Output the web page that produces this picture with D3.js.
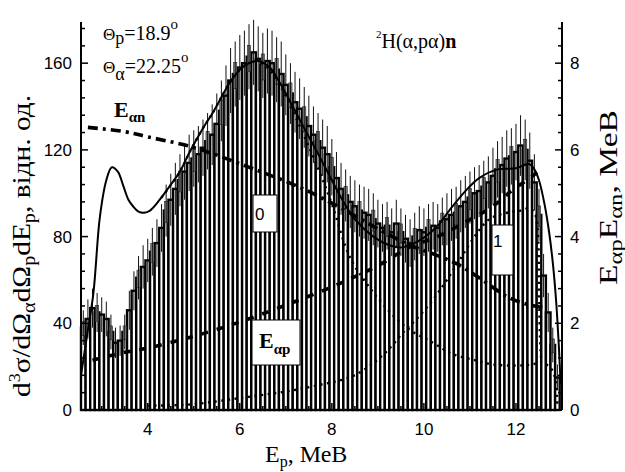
<!DOCTYPE html>
<html><head><meta charset="utf-8">
<script src="https://cdn.jsdelivr.net/npm/d3@7"></script>
<style>body{margin:0;background:#fff}</style>
</head><body>
<svg id="c" width="625" height="472"></svg>
<script>
// ---------- data ----------
const binStart = 2.55, binWidth = 0.1;
const counts = [38,42,47,45,44,42,36,31,32,36,
 46,55,61,66,69,73,77,84,92,97,
 102,106,110,114,116,118,121,124,127,132,
 138,145,152,155,158,160,163,165,162,159,
 161,160,157,155,150,146,142,139,135,131,
 127,124,121,118,112,107,102,99,96,94,
 92,91,90,88,86,84,85,82,86,82,
 79,77,80,83,82,84,85,84,87,88,
 90,91,94,96,98,100,101,103,105,108,
 111,113,116,117,119,122,120,115,105,90,
 62,45,30,15];
const errors = [8,9,9,9,8,8,8,7,7,8,
 9,9,10,10,10,11,11,11,12,12,
 12,12,13,13,13,13,13,13,14,14,
 14,14,15,15,15,15,15,15,15,15,
 15,15,15,15,14,14,14,14,14,14,
 13,13,13,13,13,12,12,12,12,12,
 12,12,12,12,11,11,11,11,11,11,
 11,11,11,11,11,11,11,11,11,12,
 12,12,12,12,12,12,12,12,12,13,
 13,13,13,13,13,14,14,13,13,12,
 10,9,8,6];
const totalFit = [[2.55,16],[2.7,37],[2.82,54],[2.96,89],[3.1,106],[3.22,112],[3.35,110],[3.46,104],[3.58,97],[3.68,94],[3.8,91.5],[3.92,91],[4.05,92],[4.26,97],[4.4,101],[4.7,110],[4.91,119],[5.2,130],[5.41,137],[5.78,151],[6.0,157],[6.2,160],[6.4,161],[6.65,158],[6.87,151],[7.15,140],[7.45,128],[7.73,117],[8.0,106],[8.2,98],[8.5,88],[8.9,80],[9.25,76],[9.5,75],[9.75,76.5],[10.0,79.5],[10.3,85],[10.55,92],[10.9,101],[11.2,107],[11.6,111],[12.0,111.5],[12.29,113.5],[12.4,111],[12.5,106],[12.62,95],[12.72,82],[12.8,68],[12.87,51],[12.93,30],[12.97,12]];
const comp0 = [[4.3,98],[4.7,110],[4.91,119],[5.2,130],[5.41,137],[5.78,151],[6.0,157],[6.2,160],[6.35,161],[6.6,158],[6.87,150],[7.15,138],[7.45,124],[7.73,110],[8.0,95],[8.38,71],[8.7,60],[9.1,49],[9.62,38],[10.2,31],[10.6,26],[11.1,23],[11.5,21],[12.0,20.5],[12.35,21],[12.55,22],[12.8,18],[12.9,2]];
const comp1 = [[4.0,2],[4.9,2.5],[5.5,4],[6.0,5.5],[6.5,7],[7.0,8.5],[7.6,11],[8.38,15],[8.8,20],[9.19,27],[9.6,37],[9.84,42],[10.2,51],[10.5,60],[10.8,70],[11.1,80],[11.42,88],[11.8,91],[12.1,92],[12.3,93],[12.42,90],[12.48,80],[12.5,60],[12.52,35],[12.55,22]];
const eAlphaP = [[2.8,1.15],[3.5,1.33],[4.0,1.43],[5.0,1.7],[6.0,2.03],[7.0,2.42],[8.0,2.84],[9.0,3.33],[9.7,3.76],[10.3,4.0],[10.84,4.3],[11.5,4.7],[11.9,5.05],[12.3,5.35],[12.6,5.6]];
const eAlphaN = [[2.7,6.52],[3.5,6.42],[4.0,6.3],[4.85,6.1],[5.5,5.88],[6.0,5.68],[6.5,5.48],[7.08,5.24],[7.73,4.92],[8.5,4.48],[9.1,4.12],[9.7,3.8],[10.2,3.6],[10.7,3.38],[11.2,3.05],[11.8,2.62],[12.2,2.45],[12.65,2.35]];
const xTicks = [4,6,8,10,12];
const leftTicks = [0,40,80,120,160];
const rightTicks = [0,2,4,6,8];

// ---------- layout ----------
const svg = d3.select("#c");
const x = d3.scaleLinear().domain([2.55, 13.0]).range([81, 562]);
const yL = d3.scaleLinear().domain([0, 179]).range([410, 22]);
const yR = d3.scaleLinear().domain([0, 8.95]).range([410, 22]);

const bins = counts.map((v,i)=>({x0: binStart + i*binWidth, x1: binStart + (i+1)*binWidth, v, e: errors[i], i}));

const gBars = svg.append("g");
gBars.selectAll("rect.bar").data(bins).join("rect")
  .attr("class","bar")
  .attr("x", d=>x(d.x0)).attr("width", d=>x(d.x1)-x(d.x0))
  .attr("y", d=>yL(d.v)).attr("height", d=>yL(0)-yL(d.v))
  .attr("fill","#fff").attr("stroke","#000").attr("stroke-width",2.4);
// gray error boxes
gBars.selectAll("rect.gb").data(bins.filter(d=>d.i%3===0)).join("rect")
  .attr("class","gb")
  .attr("x", d=>x((d.x0+d.x1)/2)-1.6).attr("width",3.2)
  .attr("y", d=>yL(d.v + d.e*0.35)).attr("height", d=>yL(d.v - d.e*0.45)-yL(d.v + d.e*0.35))
  .attr("fill","#8a8a8a").attr("stroke","#222").attr("stroke-width",0.6);
// error bars
gBars.selectAll("line.err").data(bins).join("line")
  .attr("class","err")
  .attr("x1", d=>x((d.x0+d.x1)/2)).attr("x2", d=>x((d.x0+d.x1)/2))
  .attr("y1", d=>yL(Math.max(0,d.v - d.e))).attr("y2", d=>yL(d.v + d.e))
  .attr("stroke","#111").attr("stroke-width",1);

// ---------- curves ----------
const lineL = d3.line().x(d=>x(d[0])).y(d=>yL(d[1])).curve(d3.curveCatmullRom.alpha(0.5));
const lineR = d3.line().x(d=>x(d[0])).y(d=>yR(d[1])).curve(d3.curveCatmullRom.alpha(0.5));
svg.append("path").attr("d", lineL(comp1)).attr("fill","none").attr("stroke","#000").attr("stroke-width",2.4).attr("stroke-dasharray","2.2,4.5");
svg.append("path").attr("d", lineL(comp0)).attr("fill","none").attr("stroke","#000").attr("stroke-width",2.4).attr("stroke-dasharray","2.2,4.5");
svg.append("path").attr("d", lineR(eAlphaP)).attr("fill","none").attr("stroke","#000").attr("stroke-width",3.6).attr("stroke-dasharray","7,9");
svg.append("path").attr("d", lineR(eAlphaN)).attr("fill","none").attr("stroke","#000").attr("stroke-width",3.6).attr("stroke-dasharray","10,5,3,5");
svg.append("path").attr("d", lineL(totalFit)).attr("fill","none").attr("stroke","#000").attr("stroke-width",2);

// ---------- axes ----------
const ax = svg.append("g").attr("stroke","#000").attr("fill","none");
ax.append("line").attr("x1",81).attr("x2",81).attr("y1",yL(179)).attr("y2",yL(0)).attr("stroke-width",2);
ax.append("line").attr("x1",562).attr("x2",562).attr("y1",yR(8.95)).attr("y2",yR(0)).attr("stroke-width",2);
ax.append("line").attr("x1",81).attr("x2",562).attr("y1",410).attr("y2",410).attr("stroke-width",2);
d3.range(0,179,8).forEach(v=>{
  const major = v%40===0;
  ax.append("line").attr("x1",81).attr("x2",81+(major?7:4)).attr("y1",yL(v)).attr("y2",yL(v)).attr("stroke-width",1.5);
});
d3.range(0,8.95,0.4).forEach(v=>{
  const major = Math.abs(v/2-Math.round(v/2))<1e-6;
  ax.append("line").attr("x1",562).attr("x2",562-(major?7:4)).attr("y1",yR(v)).attr("y2",yR(v)).attr("stroke-width",1.5);
});
d3.range(3,13.01,0.5).forEach(v=>{
  const major = Math.abs(v%2)<1e-6;
  ax.append("line").attr("x1",x(v)).attr("x2",x(v)).attr("y1",410).attr("y2",410-(major?7:4)).attr("stroke-width",1.5);
});

const tickFont = "'Liberation Sans', Arial, sans-serif";
svg.selectAll("text.lt").data(leftTicks).join("text").attr("class","lt")
  .attr("x",72).attr("y",d=>yL(d)).attr("dy","0.36em").attr("text-anchor","end")
  .style("font-family",tickFont).attr("font-size",17).text(d=>d);
svg.selectAll("text.rt").data(rightTicks).join("text").attr("class","rt")
  .attr("x",570).attr("y",d=>yR(d)).attr("dy","0.36em").attr("text-anchor","start")
  .style("font-family",tickFont).attr("font-size",17).text(d=>d);
svg.selectAll("text.bt").data(xTicks).join("text").attr("class","bt")
  .attr("x",d=>x(d)).attr("y",435).attr("text-anchor","middle")
  .style("font-family",tickFont).attr("font-size",17).text(d=>d);

// ---------- titles ----------
const serif = "'Liberation Serif', 'DejaVu Serif', 'Times New Roman', serif";
const bt = svg.append("text").attr("x",265).attr("y",462).style("font-family",serif).attr("font-size",24);
bt.append("tspan").text("E");
bt.append("tspan").attr("dy",5).attr("font-size",16).text("p");
bt.append("tspan").attr("dy",-5).text(", МеВ");

const lt = svg.append("text").attr("transform","translate(30,397) rotate(-90)").style("font-family",serif).attr("font-size",26)
  .attr("textLength",302).attr("lengthAdjust","spacingAndGlyphs");
lt.append("tspan").text("d");
lt.append("tspan").attr("dy",-10).attr("font-size",16).text("3");
lt.append("tspan").attr("dy",10).text("σ/dΩ");
lt.append("tspan").attr("dy",5).attr("font-size",18).text("α");
lt.append("tspan").attr("dy",-5).text("dΩ");
lt.append("tspan").attr("dy",5).attr("font-size",18).text("p");
lt.append("tspan").attr("dy",-5).text("dE");
lt.append("tspan").attr("dy",5).attr("font-size",18).text("p");
lt.append("tspan").attr("dy",-5).text(", відн. од.");

const rt = svg.append("text").attr("transform","translate(617,285) rotate(-90)").style("font-family",serif).attr("font-size",26)
  .attr("textLength",175).attr("lengthAdjust","spacingAndGlyphs");
rt.append("tspan").text("E");
rt.append("tspan").attr("dy",5).attr("font-size",19).text("αp");
rt.append("tspan").attr("dy",-5).text("E");
rt.append("tspan").attr("dy",5).attr("font-size",19).text("αn");
rt.append("tspan").attr("dy",-5).text(", МеВ");

// ---------- annotations ----------
const t1 = svg.append("text").attr("x",103).attr("y",40).style("font-family",serif).attr("font-size",20);
t1.append("tspan").attr("font-size",17).text("Θ");
t1.append("tspan").attr("dy",4).attr("font-size",18).text("p");
t1.append("tspan").attr("dy",-4).text("=18.9");
t1.append("tspan").attr("dy",-11).attr("font-size",15).text("o");
const t2 = svg.append("text").attr("x",103).attr("y",73).style("font-family",serif).attr("font-size",20);
t2.append("tspan").attr("font-size",17).text("Θ");
t2.append("tspan").attr("dy",7).attr("font-size",18).text("α");
t2.append("tspan").attr("dy",-7).text("=22.25");
t2.append("tspan").attr("dy",-11).attr("font-size",15).text("o");

const t3 = svg.append("text").attr("x",376).attr("y",48).style("font-family",serif).attr("font-size",20);
t3.append("tspan").attr("dy",-10).attr("font-size",11).text("2");
t3.append("tspan").attr("dy",10).text("H(α,pα)");
t3.append("tspan").attr("font-weight","bold").text("n");

const t4 = svg.append("text").attr("x",114).attr("y",117).style("font-family",serif).attr("font-size",22).attr("font-weight","bold");
t4.append("tspan").text("E");
t4.append("tspan").attr("dy",5).attr("font-size",15).text("αn");

// boxes
svg.append("rect").attr("x",253).attr("y",195).attr("width",24).attr("height",37).attr("fill","#fff").attr("stroke","#000").attr("stroke-width",1);
svg.append("text").attr("x",255).attr("y",220).style("font-family",tickFont).attr("font-size",17).text("0");
svg.append("rect").attr("x",492).attr("y",225).attr("width",21).attr("height",50).attr("fill","#fff").attr("stroke","#000").attr("stroke-width",1);
svg.append("text").attr("x",493).attr("y",247).style("font-family",tickFont).attr("font-size",17).text("1");
svg.append("rect").attr("x",252).attr("y",320).attr("width",48).attr("height",45).attr("fill","#fff").attr("stroke","#000").attr("stroke-width",1);
const t5 = svg.append("text").attr("x",259).attr("y",348).style("font-family",serif).attr("font-size",22).attr("font-weight","bold");
t5.append("tspan").text("E");
t5.append("tspan").attr("dy",6).attr("font-size",15).text("αp");
</script>
</body></html>
